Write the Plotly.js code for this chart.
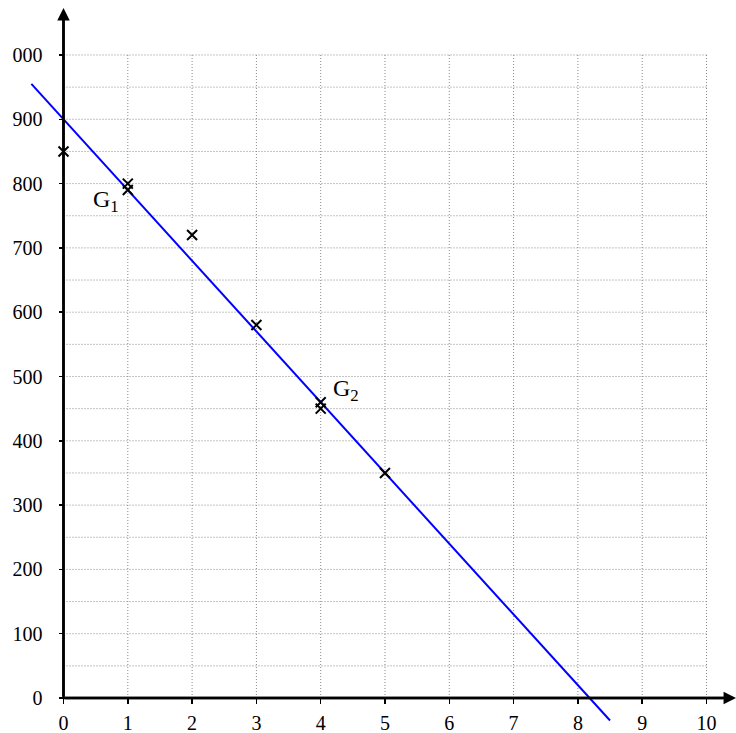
<!DOCTYPE html>
<html>
<head>
<meta charset="utf-8">
<script src="https://cdn.plot.ly/plotly-3.0.1.min.js"></script>
<style>html,body{margin:0;padding:0;background:#fff;}#chart{width:736px;height:733px;}</style>
</head>
<body>
<div id="chart"></div>
<script>
// Data points (x: rank, y: value)
const pointsX = [0, 1, 2, 3, 4, 5];
const pointsY = [850, 800, 720, 580, 450, 350];
// Mean points G1, G2
const meanLabels = ['G<sub>1</sub>', 'G<sub>2</sub>'];
const meanX = [1, 4];
const meanY = [790, 460];
// Fitted line (through G1, G2) drawn between these x values
const lineX = [-0.5, 8.5];
// Tick values / labels
const xTicks = [0, 1, 2, 3, 4, 5, 6, 7, 8, 9, 10];
const xTickText = ['0', '1', '2', '3', '4', '5', '6', '7', '8', '9', '10'];
const yTicks = [0, 100, 200, 300, 400, 500, 600, 700, 800, 900, 1000];
const yTickText = ['0', '100', '200', '300', '400', '500', '600', '700', '800', '900', '000'];
const yMinorGrid = [50, 150, 250, 350, 450, 550, 650, 750, 850, 950];

const slope = (meanY[1] - meanY[0]) / (meanX[1] - meanX[0]);
const intercept = meanY[0] - slope * meanX[0];
const lineY = lineX.map(x => slope * x + intercept);

const font = {family: 'Liberation Serif, serif', size: 20, color: '#000'};
const labelFont = {family: 'Liberation Serif, serif', size: 24, color: '#000'};

const gridLine = {color: '#888', width: 1, dash: '1px,2px'};
const shapes = [];
const xMax = xTicks[xTicks.length - 1];
const yMax = yTicks[yTicks.length - 1];
xTicks.slice(1).forEach(v => shapes.push({type: 'line', xref: 'x', yref: 'y', x0: v, x1: v, y0: 0, y1: yMax,
  line: gridLine, layer: 'below'}));
yTicks.slice(1).concat(yMinorGrid).forEach(v => shapes.push({type: 'line', xref: 'x', yref: 'y', x0: 0, x1: xMax, y0: v, y1: v,
  line: gridLine, layer: 'below'}));
// axis lines
shapes.push({type: 'line', xref: 'x', yref: 'y', x0: 0, x1: 10.3, y0: 0, y1: 0, line: {color: '#000', width: 2.5}});
shapes.push({type: 'line', xref: 'x', yref: 'y', x0: 0, x1: 0, y0: 0, y1: 1060, line: {color: '#000', width: 2.5}});

const traces = [
  {x: lineX, y: lineY, mode: 'lines', line: {color: '#0000ff', width: 2}, hoverinfo: 'skip', showlegend: false},
  {x: pointsX, y: pointsY, mode: 'markers', marker: {symbol: 'x-thin', size: 10, line: {color: '#000', width: 2}}, showlegend: false},
  {x: meanX, y: meanY, mode: 'markers', marker: {symbol: 'x-thin', size: 10, line: {color: '#000', width: 2}}, showlegend: false}
];

const annotations = [
  // axis arrow heads
  {x: 10.46, y: 0, ax: 0, ay: 0, axref: 'x', ayref: 'y', xref: 'x', yref: 'y', text: '', showarrow: true,
   arrowhead: 2, arrowsize: 1, arrowwidth: 2.5, arrowcolor: '#000', standoff: 0},
  {x: 0, y: 1073, ax: 0, ay: 0, axref: 'x', ayref: 'y', xref: 'x', yref: 'y', text: '', showarrow: true,
   arrowhead: 2, arrowsize: 1, arrowwidth: 2.5, arrowcolor: '#000', standoff: 0},
  // mean point labels
  {x: meanX[0], y: meanY[0], xref: 'x', yref: 'y', text: meanLabels[0], showarrow: false,
   xshift: -22, yshift: -11, font: labelFont},
  {x: meanX[1], y: meanY[1], xref: 'x', yref: 'y', text: meanLabels[1], showarrow: false,
   xshift: 25, yshift: 12, font: labelFont}
];

const layout = {
  width: 736, height: 733,
  margin: {l: 0, r: 0, t: 0, b: 0, pad: 0},
  paper_bgcolor: '#fff', plot_bgcolor: '#fff',
  showlegend: false,
  font: font,
  xaxis: {
    range: [-0.9876, 10.459], anchor: 'free', position: 35 / 733,
    showgrid: false, zeroline: false, showline: false,
    tickmode: 'array', tickvals: xTicks, ticktext: xTickText,
    ticks: 'outside', ticklen: 5, tickwidth: 1.5, tickcolor: '#000',
    ticklabelstandoff: 2, tickfont: font
  },
  yaxis: {
    range: [-54.4, 1085.5], anchor: 'free', position: 63.5 / 736,
    showgrid: false, zeroline: false, showline: false,
    tickmode: 'array', tickvals: yTicks, ticktext: yTickText,
    ticks: 'outside', ticklen: 5, tickwidth: 1.5, tickcolor: '#000',
    ticklabelstandoff: 12, tickfont: font
  },
  shapes: shapes,
  annotations: annotations
};

Plotly.newPlot('chart', traces, layout, {displayModeBar: false, staticPlot: true});
</script>
</body>
</html>
